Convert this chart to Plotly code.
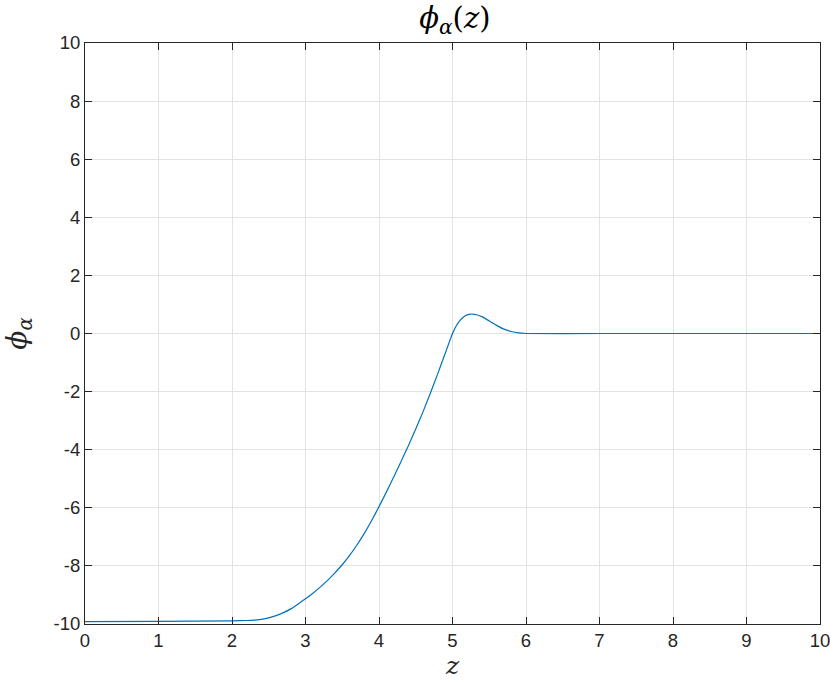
import plotly.graph_objects as go

z = [0.0, 1.0, 2.0, 2.2, 2.3, 2.4, 2.5, 2.6, 2.7, 2.8, 2.9, 3.0,
     3.1, 3.2, 3.3, 3.4, 3.5, 3.6, 3.7, 3.8, 3.9, 4.0,
     4.1, 4.2, 4.3, 4.4, 4.5, 4.6, 4.7, 4.8, 4.9, 5.0,
     5.05, 5.1, 5.15, 5.2, 5.25, 5.3, 5.35, 5.4, 5.5, 5.6, 5.7, 5.8, 5.9, 6.0,
     7.0, 8.0, 9.0, 10.0]
phi = [-9.92, -9.91, -9.89, -9.88, -9.87, -9.84, -9.79, -9.71, -9.61, -9.48, -9.31, -9.13,
       -8.94, -8.73, -8.50, -8.24, -7.96, -7.64, -7.28, -6.88, -6.44, -5.96,
       -5.46, -4.94, -4.41, -3.86, -3.29, -2.69, -2.05, -1.38, -0.69, 0.0,
       0.26, 0.44, 0.57, 0.64, 0.67, 0.66, 0.63, 0.58, 0.43, 0.28, 0.15, 0.07, 0.02, 0.0,
       0.0, 0.0, 0.0, 0.0]

xticks = list(range(0, 11))
xticktext = [str(v) for v in xticks]
yticks = list(range(-10, 11, 2))
yticktext = [str(v) for v in yticks]

fig = go.Figure()
fig.add_trace(go.Scatter(x=z, y=phi, mode="lines",
                         line=dict(color="#0072BD", width=1.2, shape="spline", smoothing=0.4),
                         showlegend=False))

axis_common = dict(
    showline=True, linecolor="#262626", linewidth=1, mirror="ticks",
    ticks="inside", ticklen=7, tickcolor="#262626", tickwidth=1,
    showgrid=True, gridcolor="#e3e3e3", gridwidth=1,
    zeroline=False, automargin=False, ticklabeloverflow="allow",
    tickfont=dict(family="Liberation Sans, Arial, sans-serif", size=18.5, color="#262626"),
)

fig.update_layout(
    width=830, height=693,
    margin=dict(l=85, r=10, t=43, b=69),
    paper_bgcolor="white", plot_bgcolor="white",
    title=dict(text="<i>ϕ</i><sub><i>α</i></sub>(<i>z</i>)",
               x=0.548, xanchor="center", y=0.974, yanchor="middle",
               font=dict(family="DejaVu Serif, serif", size=29, color="#000000")),
    xaxis=dict(range=[0, 10], tickvals=xticks, ticktext=xticktext,
               title=dict(text="<i>z</i>", standoff=6,
                          font=dict(family="DejaVu Serif, serif", size=25, color="#262626")),
               **axis_common),
    yaxis=dict(range=[-10, 10], tickvals=yticks, ticktext=yticktext,
               title=dict(text="<i>ϕ</i><sub><i>α</i></sub>", standoff=18,
                          font=dict(family="DejaVu Serif, serif", size=28, color="#262626")),
               **axis_common),
)

fig.write_html("out.html", config={"displayModeBar": False},
               post_script="document.body.style.margin='0';document.body.style.overflow='hidden';")
